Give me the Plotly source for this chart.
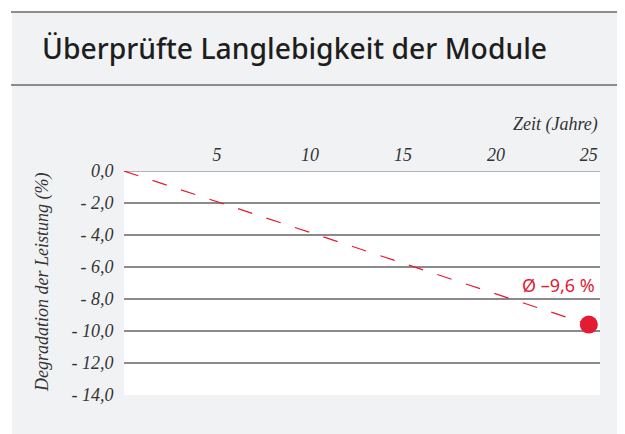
import plotly.graph_objects as go

# ---- data ----
years = [0, 25]
degradation = [0.0, -9.6]
x_tickvals = [5, 10, 15, 20, 25]
x_ticktext = ["5", "10", "15", "20", "25"]
y_tickvals = [0, -2, -4, -6, -8, -10, -12, -14]
y_ticktext = ["0,0", "- 2,0", "- 4,0", "- 6,0", "- 8,0", "- 10,0", "- 12,0", "- 14,0"]
title_text = "Überprüfte Langlebigkeit der Module"
x_title = "Zeit (Jahre)"
y_title = "Degradation der Leistung (%)"
avg_label = "Ø –9,6 %"

OFF = 8  # page body margin
W, H = 617, 426
L, T = 116, 163
PW, PH = 476, 224
R, B = W - L - PW, H - T - PH

def px(xs):
    return (xs - OFF - L) / PW

def py(ys):
    return (T + PH - (ys - OFF)) / PH

RED = "#e31b33"
SERIF = "Liberation Serif"
SANS = "Noto Sans"

fig = go.Figure()
fig.add_trace(go.Scatter(
    x=years, y=degradation, mode="lines",
    line=dict(color=RED, width=1.2, dash="15px,15px"),
    hoverinfo="skip", showlegend=False, cliponaxis=False,
))
fig.add_trace(go.Scatter(
    x=[years[-1]], y=[degradation[-1]], mode="markers",
    marker=dict(color=RED, size=18, line=dict(width=0)),
    showlegend=False, cliponaxis=False,
))

shapes = [
    dict(type="rect", xref="paper", yref="paper", x0=px(12), x1=px(640), y0=py(12), y1=py(445),
         fillcolor="#f1f2f4", line=dict(width=0), layer="below"),
    dict(type="rect", xref="paper", yref="paper", x0=0, x1=1, y0=0, y1=1,
         fillcolor="white", line=dict(width=0), layer="below"),
    dict(type="line", xref="paper", yref="paper", x0=px(11), x1=px(640), y0=py(12), y1=py(12),
         line=dict(color="#6a6a6a", width=1.3)),
    dict(type="line", xref="paper", yref="paper", x0=px(11), x1=px(640), y0=py(85), y1=py(85),
         line=dict(color="#6a6a6a", width=1.3)),
]

annotations = [
    dict(text=title_text, xref="paper", yref="paper", x=px(40), y=py(48),
         xanchor="left", yanchor="middle", showarrow=False,
         font=dict(family=SANS, size=28.3, color="#1e1e1e", weight=500)),
    dict(text=x_title, xref="paper", yref="paper", x=px(600), y=py(124),
         xanchor="right", yanchor="middle", showarrow=False,
         font=dict(family=SERIF, size=18, color="#333333", style="italic")),
    dict(text=y_title, xref="paper", yref="paper", x=px(42), y=py(283),
         xanchor="center", yanchor="middle", showarrow=False, textangle=-90,
         font=dict(family=SERIF, size=18, color="#333333", style="italic")),
    dict(text=avg_label, xref="paper", yref="paper", x=px(597), y=py(285),
         xanchor="right", yanchor="middle", showarrow=False,
         font=dict(family=SANS, size=18, color=RED)),
]

fig.update_layout(
    width=W, height=H,
    margin=dict(l=L, r=R, t=T, b=B, pad=0),
    paper_bgcolor="white", plot_bgcolor="white",
    shapes=shapes, annotations=annotations,
    xaxis=dict(range=[0, 25.6], side="top", tickvals=x_tickvals, ticktext=x_ticktext,
               showgrid=False, zeroline=False, showline=False,
               ticks="outside", ticklen=2, tickcolor="rgba(0,0,0,0)",
               tickfont=dict(family=SERIF, size=18, color="#333333", style="italic")),
    yaxis=dict(range=[-14, 0], tickvals=y_tickvals, ticktext=y_ticktext,
               showgrid=True, gridcolor="#8a8a8a", gridwidth=2,
               zeroline=True, zerolinecolor="#b4b4b4", zerolinewidth=1,
               showline=False,
               ticks="outside", ticklen=6, tickcolor="rgba(0,0,0,0)",
               tickfont=dict(family=SERIF, size=18, color="#333333", style="italic")),
)

fig.write_html("out.html")
